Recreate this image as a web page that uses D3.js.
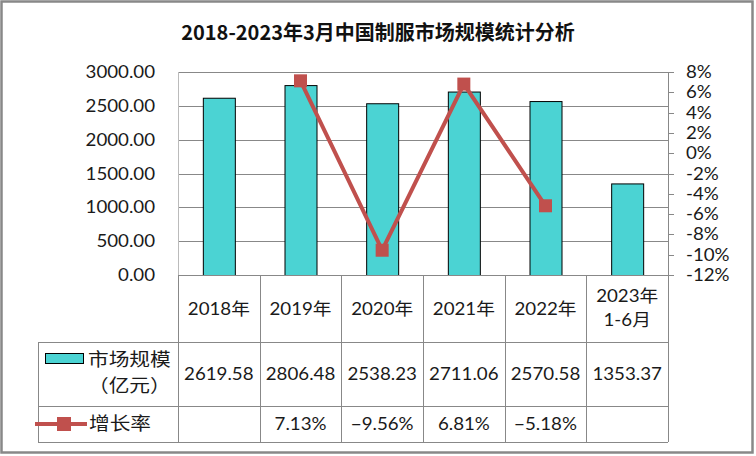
<!DOCTYPE html>
<html><head><meta charset="utf-8">
<script src="https://cdn.jsdelivr.net/npm/d3@7"></script>
<style>body{margin:0;background:#fff}svg{display:block}</style>
</head><body><svg id="c" width="756" height="456"></svg>
<script>
const categories = ["2018年","2019年","2020年","2021年","2022年","2023年\n1-6月"];
const marketSize = [2619.58, 2806.48, 2538.23, 2711.06, 2570.58, 1353.37];
const growthRate = [null, 7.13, -9.56, 6.81, -5.18, null];
const leftTicks = [0, 500, 1000, 1500, 2000, 2500, 3000];
const rightTicks = [-12,-10,-8,-6,-4,-2,0,2,4,6,8];
const title = "2018-2023年3月中国制服市场规模统计分析";
const seriesNames = ["市场规模\n（亿元）", "增长率"];

const svg = d3.select("#c");
const font = "Lato, 'Noto Sans CJK SC', sans-serif";
const L = 178, R = 668, T = 72, B = 275;
const barColor = "#4BD3D3", lineColor = "#C0504D", grid = "#888";
const SX = 1.1;

function txt(g, x, y, s, anchor, size, sx) {
  return g.append("text")
    .attr("transform", `translate(${x},${y}) scale(${sx||SX},1)`)
    .attr("text-anchor", anchor || "start")
    .attr("font-family", font).attr("font-size", size || 17).attr("fill", "#1a1a1a")
    .text(s);
}

svg.append("rect").attr("x",1.5).attr("y",1.5).attr("width",751).attr("height",451)
  .attr("fill","#fff").attr("stroke","#888").attr("stroke-width",2.5);

svg.append("text").attr("x",378).attr("y",40).attr("text-anchor","middle")
  .attr("font-family","'Noto Sans CJK SC', sans-serif").attr("font-weight","bold")
  .attr("font-size",20).attr("fill","#111").text(title);

const x = d3.scaleBand().domain(categories).range([L,R]);
const y = d3.scaleLinear().domain([0,3000]).range([B,T]);
const y2 = d3.scaleLinear().domain([-12,8]).range([B,T]);

// gridlines
svg.append("g").selectAll("line").data(leftTicks.filter(d=>d>0)).join("line")
  .attr("x1",L).attr("x2",R).attr("y1",d=>Math.round(y(d))+0.5).attr("y2",d=>Math.round(y(d))+0.5)
  .attr("stroke",grid).attr("stroke-width",1);

// left axis labels
const fmt = d3.format(".2f");
const gl = svg.append("g");
leftTicks.forEach(d => txt(gl, 155, y(d)+6, fmt(d), "end", 17));

// left axis line
svg.append("line").attr("x1",L+0.5).attr("x2",L+0.5).attr("y1",T).attr("y2",B).attr("stroke","#bbb");

// right axis
svg.append("line").attr("x1",R+0.5).attr("x2",R+0.5).attr("y1",T).attr("y2",B).attr("stroke",grid);
svg.append("g").selectAll("line").data(rightTicks).join("line")
  .attr("x1",R).attr("x2",R+6).attr("y1",d=>Math.round(y2(d))+0.5).attr("y2",d=>Math.round(y2(d))+0.5)
  .attr("stroke",grid);
const gr = svg.append("g");
rightTicks.forEach(d => txt(gr, 686, y2(d)+6, d+"%", "start", 17));

// bars
const bw = 32;
svg.append("g").selectAll("rect").data(marketSize).join("rect")
  .attr("x",(d,i)=>x(categories[i])+x.bandwidth()/2-bw/2+0.5)
  .attr("y",d=>y(d)+0.5).attr("width",bw).attr("height",d=>B-y(d))
  .attr("fill",barColor).attr("stroke","#000").attr("stroke-width",1);

// line
const pts = growthRate.map((v,i)=>({v,i})).filter(d=>d.v!==null);
svg.append("path").datum(pts)
  .attr("d",d3.line().x(d=>x(categories[d.i])+x.bandwidth()/2).y(d=>y2(d.v)))
  .attr("fill","none").attr("stroke",lineColor).attr("stroke-width",4);
svg.append("g").selectAll("rect").data(pts).join("rect")
  .attr("x",d=>x(categories[d.i])+x.bandwidth()/2-6.5).attr("y",d=>y2(d.v)-6.5)
  .attr("width",13).attr("height",13).attr("fill",lineColor);

// table
const tg = svg.append("g").attr("stroke",grid).attr("stroke-width",1);
tg.append("line").attr("x1",L).attr("x2",R).attr("y1",B+0.5).attr("y2",B+0.5);
[342,406,442].forEach(yy=>tg.append("line").attr("x1",38).attr("x2",R).attr("y1",yy+0.5).attr("y2",yy+0.5));
categories.forEach((c,i)=>tg.append("line").attr("x1",Math.round(x(c))+0.5).attr("x2",Math.round(x(c))+0.5).attr("y1",B).attr("y2",442));
tg.append("line").attr("x1",R+0.5).attr("x2",R+0.5).attr("y1",B).attr("y2",442);
tg.append("line").attr("x1",38.5).attr("x2",38.5).attr("y1",342).attr("y2",442);

const tf = svg.append("g");
categories.forEach((c,i)=>{
  const cx = x(c)+x.bandwidth()/2;
  const parts = c.split("\n");
  if(parts.length===1){
    txt(tf, cx, 315, parts[0], "middle", 17);
  } else {
    txt(tf, cx, 302, parts[0], "middle", 17);
    txt(tf, cx, 326, parts[1], "middle", 17);
  }
  txt(tf, cx, 380, fmt(marketSize[i]), "middle", 17);
  if(growthRate[i]!==null) txt(tf, cx, 430, fmt(growthRate[i])+"%", "middle", 17);
});

// legend cells
svg.append("rect").attr("x",45.5).attr("y",353.5).attr("width",38).attr("height",10)
  .attr("fill",barColor).attr("stroke","#000");
const n1 = seriesNames[0].split("\n");
const lg = svg.append("g");
txt(lg, 88, 366, n1[0], "start", 18, 1.15);
txt(lg, 88, 392, n1[1], "start", 18, 1.15);
svg.append("line").attr("x1",35).attr("x2",87).attr("y1",424).attr("y2",424).attr("stroke",lineColor).attr("stroke-width",4);
svg.append("rect").attr("x",57).attr("y",417).attr("width",14).attr("height",14).attr("fill",lineColor);
txt(lg, 89, 430, seriesNames[1], "start", 18, 1.15);
</script></body></html>
